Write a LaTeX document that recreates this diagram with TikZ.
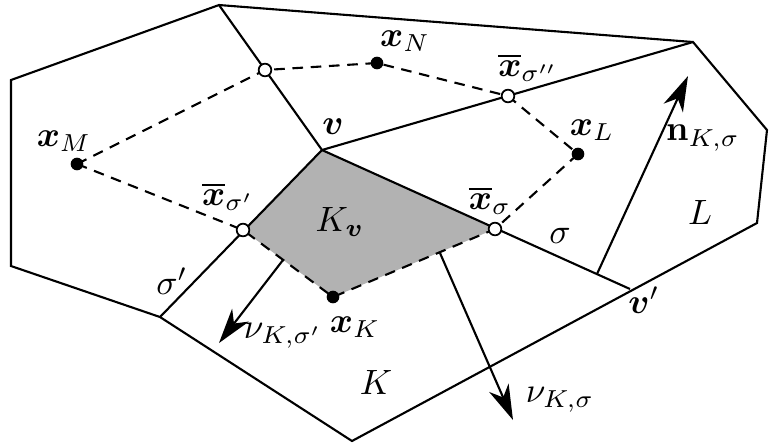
\documentclass[tikz,border=0pt]{standalone}
\usepackage{amsmath}
\usetikzlibrary{arrows.meta}

\begin{document}
\begin{tikzpicture}[x=0.01cm, y=-0.01cm, >={Stealth[length=10pt, width=6pt, inset=3pt]}]

        % Styles
        \tikzset{
            meshedge/.style={line width=0.6pt},
            dualedge/.style={line width=0.6pt, dash pattern=on 3pt off 2.2pt},
            cellcenter/.style={circle, fill=black, inner sep=0pt, minimum size=3.6pt},
            facepoint/.style={circle, draw=black, fill=white, line width=0.5pt, inner sep=0pt, minimum size=3.6pt},
            normalvec/.style={->, line width=0.6pt},
            lbl/.style={inner sep=0pt}
        }
        \useasboundingbox (0,0) rectangle (769,444);

        % --- Vertices of the mesh ---
        \coordinate (A) at (219,5);
        \coordinate (G) at (693,42);
        \coordinate (R) at (767,130);
        \coordinate (F) at (757,223);
        \coordinate (E) at (352,441);
        \coordinate (D) at (160,317);
        \coordinate (C) at (11,266);
        \coordinate (B) at (11,80);
        \coordinate (v) at (322,150);
        \coordinate (vp) at (630,289);

        % --- Points of the dual mesh ---
        \coordinate (xM) at (77,164);
        \coordinate (xN) at (377,63);
        \coordinate (xL) at (578,154);
        \coordinate (xK) at (333,297);
        \coordinate (xs) at (495,229);
        \coordinate (xsp) at (243,230);
        \coordinate (xspp) at (508,96);
        \coordinate (xsA) at (265,70);

        % Diamond cell K_v
        \fill[gray!60] (v) -- (xs) -- (xK) -- (xsp) -- cycle;

        % --- Primal edges ---
        \draw[meshedge] (A) -- (G) -- (R) -- (F) -- (E) -- (D) -- (C) -- (B) -- cycle;
        \draw[meshedge] (A) -- (v);
        \draw[meshedge] (v) -- (G);
        \draw[meshedge] (v) -- (vp);
        \draw[meshedge] (v) -- (D);

        % --- Dual edges ---
        \draw[dualedge] (xM) -- (xsA) -- (xN) -- (xspp) -- (xL) -- (xs);
        \draw[dualedge] (xM) -- (xsp) -- (xK) -- (xs);

        % --- Normal vectors ---
        \coordinate (nS) at (597,274);
        \coordinate (nE) at (688,76);
        \coordinate (nuS) at (440,253);
        \coordinate (nuE) at (513,420);
        \coordinate (nupS) at (283,260);
        \coordinate (nupE) at (219,343);
        \draw[normalvec] (nS) -- (nE);
        \draw[normalvec] (nuS) -- (nuE);
        \draw[normalvec] (nupS) -- (nupE);

        % Points
        \foreach \p in {xM, xN, xL, xK}
            \node[cellcenter] at (\p) {};
        \foreach \p in {xs, xsp, xspp, xsA}
            \node[facepoint] at (\p) {};

        % --- Labels ---
        \node[lbl] (lxM) at (64,141) {$\boldsymbol{x}_M$};
        \node[lbl] (lxN) at (405,41) {$\boldsymbol{x}_N$};
        \node[lbl] (lv) at (333,127) {$\boldsymbol{v}$};
        \node[lbl] (lxspp) at (528,68) {$\overline{\boldsymbol{x}}_{\sigma''}$};
        \node[lbl] (lxL) at (592,130) {$\boldsymbol{x}_L$};
        \node[lbl] (ln) at (703,138) {$\mathbf{n}_{K,\sigma}$};
        \node[lbl] (lL) at (700,212) {$L$};
        \node[lbl] (lxsp) at (228,197) {$\overline{\boldsymbol{x}}_{\sigma'}$};
        \node[lbl] (lKv) at (340,222) {$K_{\boldsymbol{v}}$};
        \node[lbl] (lxs) at (490,201) {$\overline{\boldsymbol{x}}_{\sigma}$};
        \node[lbl] (ls) at (560,236) {$\sigma$};
        \node[lbl] (lsp) at (172,281) {$\sigma'$};
        \node[lbl] (lvp) at (644,300) {$\boldsymbol{v}'$};
        \node[lbl] (lxK) at (355,327) {$\boldsymbol{x}_K$};
        \node[lbl] (lnup) at (283,336) {$\nu_{K,\sigma'}$};
        \node[lbl] (lK) at (376,382) {$K$};
        \node[lbl] (lnu) at (560,400) {$\nu_{K,\sigma}$};

\end{tikzpicture}
\end{document}
